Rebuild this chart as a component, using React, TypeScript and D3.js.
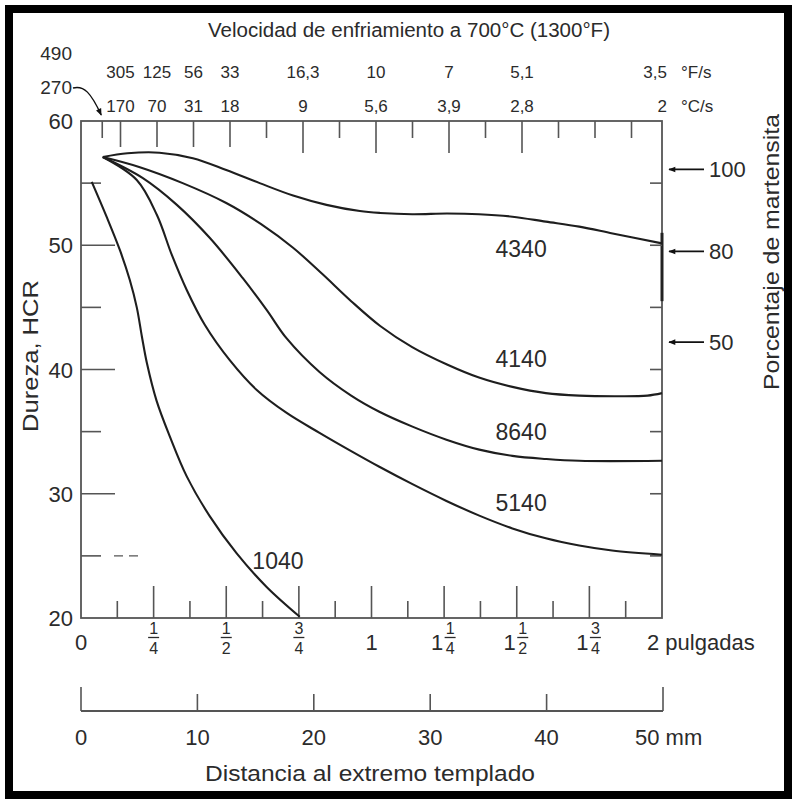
import React from 'react';
import * as d3 from 'd3';

// distancia (pulgadas), dureza (HRC)
const curve4340: [number, number][] = [[0.075, 57.1], [0.16, 57.4], [0.27, 57.45], [0.385, 57.0], [0.5, 56.05], [0.615, 55.0], [0.73, 54.0], [0.845, 53.25], [0.96, 52.75], [1.03, 52.6], [1.14, 52.5], [1.26, 52.55], [1.37, 52.5], [1.485, 52.3], [1.6, 51.9], [1.715, 51.5], [1.83, 50.95], [2.0, 50.15]];
const curve4140: [number, number][] = [[0.075, 57.1], [0.2, 56.3], [0.35, 55.0], [0.5, 53.4], [0.62, 51.7], [0.73, 49.8], [0.83, 47.7], [0.93, 45.5], [1.03, 43.5], [1.14, 41.8], [1.26, 40.4], [1.37, 39.35], [1.485, 38.6], [1.6, 38.1], [1.715, 37.9], [1.85, 37.85], [1.95, 37.9], [2.0, 38.1]];
const curve8640: [number, number][] = [[0.075, 57.1], [0.213, 55.4], [0.33, 53.25], [0.443, 50.6], [0.557, 47.35], [0.639, 44.8], [0.708, 42.5], [0.821, 39.8], [0.93, 37.9], [1.027, 36.6], [1.141, 35.4], [1.258, 34.35], [1.371, 33.55], [1.485, 33.05], [1.6, 32.8], [1.715, 32.65], [2.0, 32.65]];
const curve5140: [number, number][] = [[0.075, 57.1], [0.192, 55.25], [0.261, 52.45], [0.313, 49.2], [0.364, 46.4], [0.426, 43.6], [0.512, 40.75], [0.605, 38.35], [0.708, 36.5], [0.821, 34.9], [0.93, 33.43], [1.027, 32.17], [1.141, 30.77], [1.258, 29.42], [1.371, 28.24], [1.485, 27.21], [1.6, 26.41], [1.715, 25.83], [1.828, 25.43], [2.0, 25.09]];
const curve1040: [number, number][] = [[0.037, 55.1], [0.088, 52.3], [0.134, 49.6], [0.168, 47.2], [0.192, 45.0], [0.21, 42.6], [0.227, 40.5], [0.26, 37.5], [0.306, 34.6], [0.364, 31.4], [0.443, 28.2], [0.536, 25.2], [0.639, 22.5], [0.753, 20.1]];

const steelNames = ['4340', '4140', '8640', '5140', '1040'];
const steelCurves = [curve4340, curve4140, curve8640, curve5140, curve1040];

// velocidad de enfriamiento a 700°C
const rateDist = [1 / 8, 1 / 4, 3 / 8, 1 / 2, 3 / 4, 1, 1.25, 1.5, 2];
const rateF = ['305', '125', '56', '33', '16,3', '10', '7', '5,1', '3,5'];
const rateC = ['170', '70', '31', '18', '9', '5,6', '3,9', '2,8', '2'];
const firstRateF = '490';
const firstRateC = '270';

const hrcTicks = [20, 30, 40, 50, 60];
const inchTicks = [0, 0.25, 0.5, 0.75, 1, 1.25, 1.5, 1.75, 2];
const inchLabels = ['0', '1/4', '1/2', '3/4', '1', '1 1/4', '1 1/2', '1 3/4', '2'];
const mmTicks = [0, 10, 20, 30, 40, 50];

const martensitePct = ['100', '80', '50'];
const martensiteHrc = [56.1, 49.5, 42.2];

const FONT = '"Liberation Sans", Arial, sans-serif';
const INK = '#2b2b2b';
const AXIS = '#555';

// label anchors (inches, HRC)
const labelAt: [number, number][] = [[1.515, 49.05], [1.515, 40.2], [1.515, 34.33], [1.515, 28.6], [0.678, 23.94]];

function Frac({ cx, num, den }: { cx: number; num: string; den: string }) {
  return (
    <g fontSize={16} textAnchor="middle" fill={INK}>
      <text x={cx} y={634}>{num}</text>
      <line x1={cx - 5.5} x2={cx + 5.5} y1={637.5} y2={637.5} stroke={INK} strokeWidth={1.3} />
      <text x={cx} y={654}>{den}</text>
    </g>
  );
}

export default function App() {
  const x = d3.scaleLinear().domain([0, 2]).range([81, 662]);
  const xTop = d3.scaleLinear().domain([0, 2]).range([84, 668]);
  const xMm = d3.scaleLinear().domain([0, 50]).range([81, 663]);
  const y = d3.scaleLinear().domain([20, 60]).range([618, 121]);

  const line = d3.line<[number, number]>()
    .x(d => x(d[0]))
    .y(d => y(d[1]))
    .curve(d3.curveCatmullRom.alpha(0.5));

  const top = y(60), bottom = y(20), left = x(0), right = x(2);
  const eighths = d3.range(1, 16).map(i => i / 8);
  const fives = d3.range(25, 60, 5);

  return (
    <div style={{ position: 'absolute', left: 0, top: 0 }}>
      <svg width={793} height={800} fontFamily={FONT} style={{ display: 'block', background: '#fff' }}>
        <defs>
          <marker id="arrow" viewBox="0 0 10 10" refX="9" refY="5" markerWidth="11" markerHeight="7" orient="auto" markerUnits="userSpaceOnUse">
            <path d="M0,1 L10,5 L0,9 Z" fill="#111" />
          </marker>
        </defs>

        <rect x={9} y={9} width={779} height={786} fill="none" stroke="#000" strokeWidth={8} />

        {/* titulo superior */}
        <text x={409} y={37} textAnchor="middle" fontSize={20} fill={INK} textLength={402} lengthAdjust="spacingAndGlyphs">
          Velocidad de enfriamiento a 700°C (1300°F)
        </text>

        {/* escalas de velocidad */}
        <text x={72} y={60} textAnchor="end" fontSize={19} fill={INK}>{firstRateF}</text>
        <text x={72} y={94} textAnchor="end" fontSize={19} fill={INK}>{firstRateC}</text>
        <path d={`M73,88 C84,85 91,93 ${xTop(1 / 16) - 1},${top - 6}`} fill="none" stroke="#111" strokeWidth={1.4} markerEnd="url(#arrow)" />
        {rateDist.map((d, i) => {
          const last = i === rateDist.length - 1;
          return (
            <g key={'r' + i} fontSize={17} fill={INK} textAnchor={last ? 'end' : 'middle'}>
              <text x={last ? xTop(d) - 1 : xTop(d)} y={78}>{rateF[i]}</text>
              <text x={last ? xTop(d) - 1 : xTop(d)} y={112}>{rateC[i]}</text>
            </g>
          );
        })}
        <text x={681} y={78} fontSize={17} fill={INK}>°F/s</text>
        <text x={681} y={112} fontSize={17} fill={INK}>°C/s</text>

        {/* marco */}
        <rect x={left} y={top} width={right - left} height={bottom - top} fill="none" stroke={AXIS} strokeWidth={1.8} />
        <line x1={right} x2={right} y1={y(51)} y2={y(45.5)} stroke="#222" strokeWidth={3} />

        {/* marcas superiores */}
        {[1 / 16, ...eighths].map((d, i) => {
          const labelled = rateDist.some(r => Math.abs(r - d) < 1e-6);
          const len = labelled ? (d <= 0.5 ? 26 : 32) : 17;
          return <line key={'tt' + i} x1={xTop(d)} x2={xTop(d)} y1={top} y2={top + len} stroke={AXIS} strokeWidth={1.6} />;
        })}

        {/* marcas izquierda y derecha */}
        {fives.map(v => (
          <g key={'yl' + v}>
            <line x1={left} x2={left + (v % 10 === 0 ? 34 : 20)} y1={y(v)} y2={y(v)} stroke={AXIS} strokeWidth={1.6} />
            <line x1={right - 12} x2={right} y1={y(v)} y2={y(v)} stroke={AXIS} strokeWidth={1.6} />
          </g>
        ))}
        <line x1={left + 33} x2={left + 58} y1={y(25)} y2={y(25)} stroke={AXIS} strokeWidth={1.3} strokeDasharray="9,6" />
        {hrcTicks.map(v => (
          <text key={'yt' + v} x={73} y={y(v) + 8} textAnchor="end" fontSize={22} fill={INK}>{v}</text>
        ))}
        <text transform={`translate(38,356) rotate(-90)`} textAnchor="middle" fontSize={22} fill={INK} textLength={152} lengthAdjust="spacingAndGlyphs">Dureza, HCR</text>

        {/* marcas inferiores (pulgadas) */}
        {eighths.map((d, i) => (
          <line key={'bt' + i} x1={x(d)} x2={x(d)} y1={bottom} y2={bottom - ((i + 1) % 2 === 0 ? 32 : 17)} stroke={AXIS} strokeWidth={1.6} />
        ))}
        {inchTicks.map((d, i) => {
          const lab = inchLabels[i];
          const cx = x(d);
          const parts = lab.split(' ');
          const fr = parts[parts.length - 1].includes('/') ? parts[parts.length - 1].split('/') : null;
          if (i === inchTicks.length - 1) {
            return <text key={'il' + i} x={cx - 15} y={650} fontSize={22} fill={INK}>{lab} pulgadas</text>;
          }
          if (fr && parts.length > 1) {
            return (
              <g key={'il' + i}>
                <text x={cx - 1} y={650} textAnchor="end" fontSize={22} fill={INK}>{parts[0]}</text>
                <Frac cx={cx + 6} num={fr[0]} den={fr[1]} />
              </g>
            );
          }
          if (fr) return <Frac key={'il' + i} cx={cx} num={fr[0]} den={fr[1]} />;
          return <text key={'il' + i} x={cx} y={650} textAnchor="middle" fontSize={22} fill={INK}>{lab}</text>;
        })}

        {/* escala en mm */}
        <line x1={xMm(0)} x2={xMm(50)} y1={711} y2={711} stroke={AXIS} strokeWidth={1.8} />
        {mmTicks.map((v, i) => {
          const end = i === 0 || i === mmTicks.length - 1;
          return <line key={'mt' + v} x1={xMm(v)} x2={xMm(v)} y1={711} y2={711 - (end ? 24 : 17)} stroke={AXIS} strokeWidth={1.6} />;
        })}
        {mmTicks.map((v, i) => (
          i === mmTicks.length - 1
            ? <text key={'ml' + v} x={xMm(v) - 28} y={745} fontSize={22} fill={INK}>{v} mm</text>
            : <text key={'ml' + v} x={xMm(v)} y={745} textAnchor="middle" fontSize={22} fill={INK}>{v}</text>
        ))}
        <text x={370} y={781} textAnchor="middle" fontSize={22} fill={INK} textLength={330} lengthAdjust="spacingAndGlyphs">Distancia al extremo templado</text>

        {/* martensita */}
        {martensitePct.map((p, i) => (
          <g key={'m' + p}>
            <line x1={704} x2={669} y1={y(martensiteHrc[i])} y2={y(martensiteHrc[i])} stroke="#111" strokeWidth={1.8} markerEnd="url(#arrow)" />
            <text x={709} y={y(martensiteHrc[i]) + 8} fontSize={22} fill={INK}>{p}</text>
          </g>
        ))}
        <text transform={`translate(779,252) rotate(-90)`} textAnchor="middle" fontSize={22} fill={INK} textLength={276} lengthAdjust="spacingAndGlyphs">Porcentaje de martensita</text>

        {/* curvas */}
        {steelCurves.map((c, i) => (
          <path key={steelNames[i]} d={line(c) || ''} fill="none" stroke="#1e1e1e" strokeWidth={2.1} />
        ))}
        {steelNames.map((n, i) => (
          <text key={'sl' + n} x={x(labelAt[i][0])} y={y(labelAt[i][1])} textAnchor="middle" fontSize={23} fill={INK}>{n}</text>
        ))}
      </svg>
    </div>
  );
}
